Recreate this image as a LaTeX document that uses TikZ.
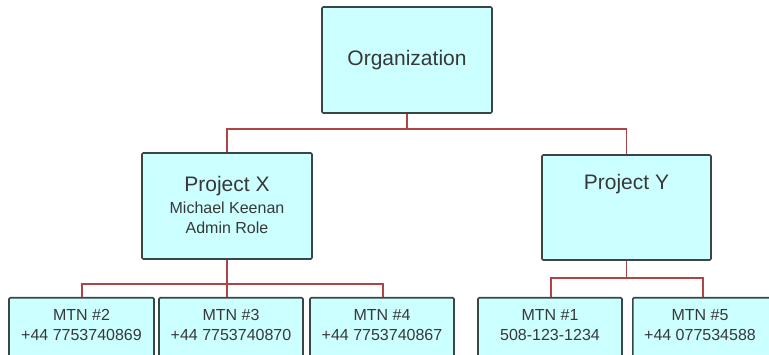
\documentclass[tikz,border=0pt]{standalone}
\usepackage{fontspec}
\setmainfont{Liberation Sans}
\usetikzlibrary{calc}
\definecolor{boxfill}{HTML}{CCFFFF}
\definecolor{boxline}{HTML}{3A4646}
\definecolor{conn}{HTML}{B04444}
\definecolor{txt}{HTML}{383838}
\tikzset{
  orgbox/.style={draw=boxline, fill=boxfill, line width=1.6pt, rounded corners=1.2pt, inner sep=0pt},
  bigtext/.style={text=txt, font=\fontsize{21}{24}\selectfont, inner sep=0pt},
  smalltext/.style={text=txt, font=\fontsize{16}{19}\selectfont, inner sep=0pt, anchor=base},
  link/.style={draw=conn, line width=1.5pt}
}
\begin{document}
\begin{tikzpicture}[x=1pt,y=-1pt]
\useasboundingbox (0,0) rectangle (769,355);
\clip (0,0) rectangle (769,355);
% top
\node[orgbox, minimum width=170pt, minimum height=106pt] (org) at (407,60) {};
\node[bigtext] (orgt) at (org.center) {Organization};
% level 2
\node[orgbox, minimum width=170pt, minimum height=106pt] (px) at (227,206) {};
\node[orgbox, minimum width=169pt, minimum height=105pt] (py) at (626.5,207.5) {};
\node[bigtext, anchor=base] (pxt) at ($(px.north)+(0,39.5)$) {Project X};
\node[smalltext] (pxn) at ($(px.north)+(0,61)$) {Michael Keenan};
\node[smalltext] (pxr) at ($(px.north)+(0,81)$) {Admin Role};
\node[bigtext, anchor=base] (pyt) at ($(py.north)+(0,35.5)$) {Project Y};
% level 3
\node[orgbox, minimum width=145pt, minimum height=80pt, anchor=north] (m2) at (81.5,297) {};
\node[orgbox, minimum width=144pt, minimum height=80pt, anchor=north] (m3) at (231,297) {};
\node[orgbox, minimum width=144pt, minimum height=80pt, anchor=north] (m4) at (382,297) {};
\node[orgbox, minimum width=144pt, minimum height=80pt, anchor=north] (m1) at (550,297) {};
\node[orgbox, minimum width=170pt, minimum height=80pt, anchor=north west] (m5) at (632,297) {};
\coordinate (m5c) at (700,297);
\foreach \n/\p/\a/\b in {m2/m2.north/MTN \#2/+44 7753740869, m3/m3.north/MTN \#3/+44 7753740870, m4/m4.north/MTN \#4/+44 7753740867, m1/m1.north/MTN \#1/508-123-1234, m5/m5c/MTN \#5/+44 077534588}{
  \node[smalltext] (\n a) at ($(\p)+(0,24)$) {\a};
  \node[smalltext] (\n b) at ($(\p)+(0,44)$) {\b};
}
% connectors
\coordinate (j0) at ($(org.south)+(0,15)$);
\draw[link] (org.south) -- (j0);
\draw[link] (j0) -| (px.north);
\draw[link] (j0) -| (py.north);
\coordinate (j1) at ($(px.south)+(0,24)$);
\draw[link] (px.south) -- (j1);
\draw[link] (j1) -| ([xshift=0.5pt]m2.north);
\draw[link] (j1) -| ([xshift=1pt]m4.north);
\draw[link] (j1) -- (j1 |- m3.north);
\coordinate (j2) at ($(py.south)+(0,17)$);
\draw[link] (py.south) -- (j2);
\draw[link] (j2) -| ([xshift=1pt]m1.north);
\draw[link] (j2) -| ([xshift=3pt]m5c);
\end{tikzpicture}
\end{document}
